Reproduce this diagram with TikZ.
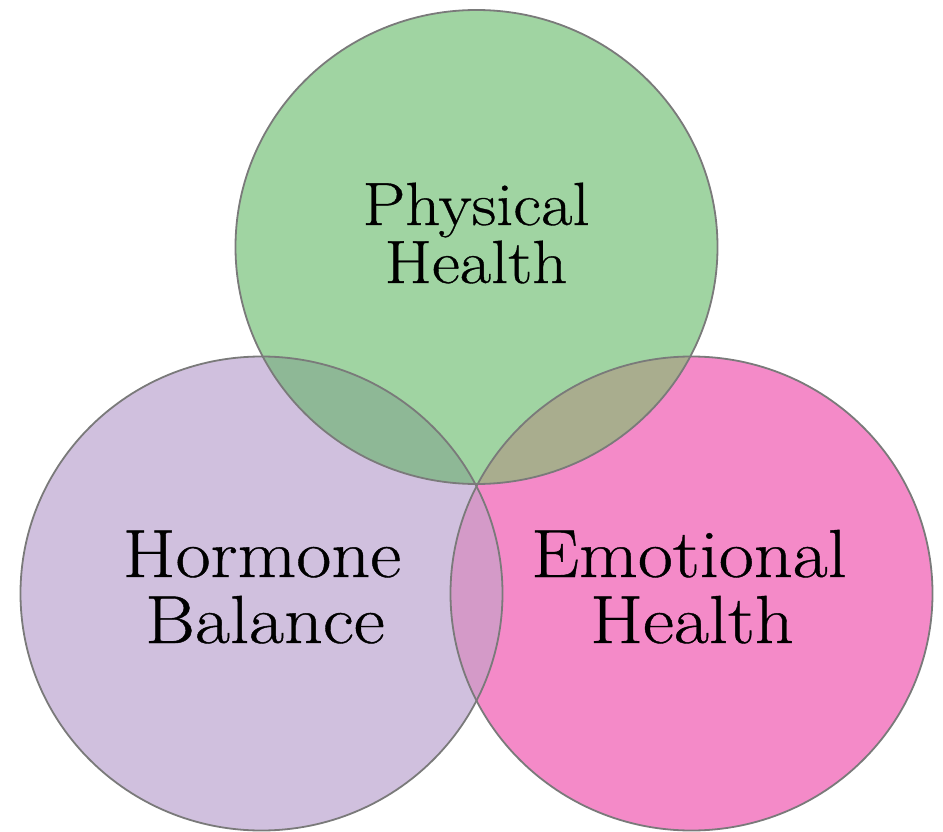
\documentclass[tikz,border=0pt]{standalone}
\usepackage{fontspec}
\setmainfont{Latin Modern Roman}[FakeStretch=1.12, FakeBold=0.6]
\definecolor{cgreen}{HTML}{A0D4A2}
\definecolor{cpurple}{HTML}{D0C0DE}
\definecolor{cpink}{HTML}{F48AC8}
\definecolor{cgp}{HTML}{8EB896}
\definecolor{cgk}{HTML}{A9AD8E}
\definecolor{cpk}{HTML}{D49AC8}
\definecolor{cedge}{HTML}{7A7A7A}
\tikzset{
  ring/.style={draw=cedge, line width=1.8pt},
  toplabel/.style={anchor=base, inner sep=0pt, font=\fontsize{61}{61}\selectfont},
  botlabel/.style={anchor=base, inner sep=0pt, font=\fontsize{68}{68}\selectfont}
}
\begin{document}
\begin{tikzpicture}[x=1pt,y=-1pt]
\useasboundingbox (0,0) rectangle (943,832);
\def\Gc{(476.5,247) ellipse [x radius=241, y radius=237]}
\def\Pc{(261.5,593.5) ellipse [x radius=241, y radius=237]}
\def\Kc{(691.5,593.5) ellipse [x radius=241, y radius=237]}
% base fills
\fill[cpurple] \Pc;
\fill[cpink] \Kc;
\fill[cgreen] \Gc;
% overlaps
\begin{scope}\clip \Gc; \fill[cgp] \Pc; \end{scope}
\begin{scope}\clip \Gc; \fill[cgk] \Kc; \end{scope}
\begin{scope}\clip \Pc; \fill[cpk] \Kc; \end{scope}
% outlines
\draw[ring] \Pc;
\draw[ring] \Kc;
\draw[ring] \Gc;
% labels
\node[toplabel] (p1) at (476,225) {Physical};
\node[toplabel] (p2) at (476,283) {Health};
\node[botlabel] (h1) at (262,577) {Hormone};
\node[botlabel] (h2) at (265,643) {Balance};
\node[botlabel] (e1) at (689,577) {Emotional};
\node[botlabel] (e2) at (692,643) {Health};
\end{tikzpicture}
\end{document}
